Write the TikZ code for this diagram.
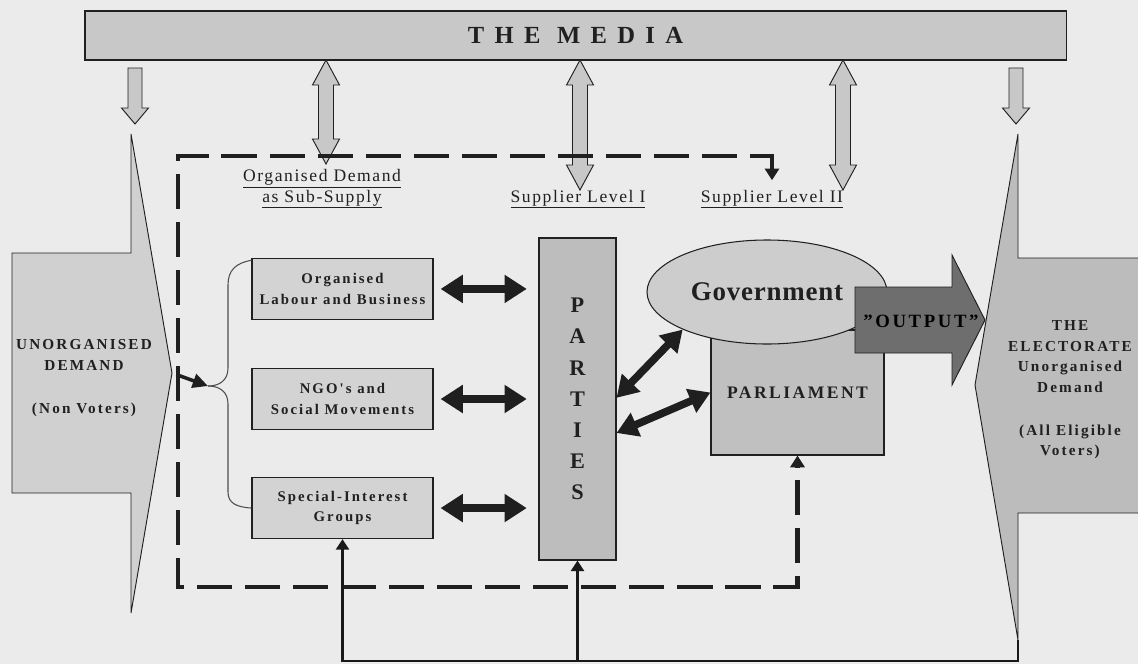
\documentclass[tikz,border=0pt]{standalone}
\usepackage{fontspec}
\setmainfont{Liberation Serif}
\newfontfamily\spaced[LetterSpace=14]{Liberation Serif}
\newfontfamily\lightspaced[LetterSpace=3]{Liberation Serif}
\newfontfamily\labelfont[LetterSpace=9]{Liberation Serif}
\newfontfamily\mediafont[LetterSpace=42]{Liberation Serif}
\usepackage{tikz}
\usetikzlibrary{arrows.meta,positioning,shapes.geometric}

\definecolor{paper}{HTML}{EBEBEB}
\definecolor{barfill}{HTML}{C8C8C8}
\definecolor{boxfill}{HTML}{D3D3D3}
\definecolor{partyfill}{HTML}{BDBDBD}
\definecolor{govfill}{HTML}{CDCDCD}
\definecolor{parlfill}{HTML}{C0C0C0}
\definecolor{outfill}{HTML}{6E6E6E}
\definecolor{demfill}{HTML}{D0D0D0}
\definecolor{elecfill}{HTML}{BCBCBC}
\definecolor{inkgrey}{HTML}{202020}

% vertical block arrows under the media bar: #1 = x, #2 = top, #3 = bottom
\newcommand{\twowayblock}[3]{%
	\filldraw[mediaarr] (#1,#2) -- (#1+13.5,#2+25) -- (#1+7.5,#2+25) -- (#1+7.5,#3-25)
		-- (#1+13.5,#3-25) -- (#1,#3) -- (#1-13.5,#3-25) -- (#1-7.5,#3-25)
		-- (#1-7.5,#2+25) -- (#1-13.5,#2+25) -- cycle;}
\newcommand{\downblock}[3]{%
	\filldraw[mediaarr] (#1-7,#2) -- (#1+7,#2) -- (#1+7,#3-16) -- (#1+13.5,#3-16)
		-- (#1,#3) -- (#1-13.5,#3-16) -- (#1-7,#3-16) -- cycle;}

\begin{document}
\begin{tikzpicture}[
		x=0.03cm, y=-0.03cm,
		text=inkgrey,
		mediabar/.style={
			rectangle, draw=inkgrey, line width=0.9pt, fill=barfill,
			minimum width=29.43cm, minimum height=1.47cm, inner sep=0pt,
			font=\mediafont\bfseries\fontsize{21}{24}\selectfont
		},
		mediaarr/.style={draw=inkgrey, line width=0.8pt, fill=barfill},
		orgbox/.style={
			rectangle, draw=inkgrey, line width=0.9pt, fill=boxfill,
			minimum width=5.43cm, minimum height=1.83cm, inner sep=2pt,
			align=center, font=\spaced\bfseries\fontsize{12.6}{17.5}\selectfont
		},
		partybox/.style={
			rectangle, draw=inkgrey, line width=0.9pt, fill=partyfill,
			minimum width=2.31cm, minimum height=9.66cm, inner sep=0pt,
			align=center, font=\bfseries\fontsize{19}{26.6}\selectfont
		},
		parlbox/.style={
			rectangle, draw=inkgrey, line width=0.9pt, fill=parlfill,
			minimum width=5.19cm, minimum height=3.75cm, inner sep=0pt,
			font=\spaced\bfseries\fontsize{15}{17}\selectfont
		},
		govnode/.style={
			ellipse, draw=inkgrey, line width=0.9pt, fill=govfill,
			minimum width=7.2cm, minimum height=3.12cm, inner sep=0pt,
			font=\lightspaced\bfseries\fontsize{23}{26}\selectfont
		},
		outblock/.style={draw=inkgrey, line width=0.8pt, fill=outfill},
		demtext/.style={align=center, font=\spaced\bfseries\fontsize{13}{17.5}\selectfont},
		level/.style={align=center, inner sep=1pt, font=\labelfont\fontsize{15}{17.5}\selectfont},
		bigshape/.style={draw=inkgrey, line width=0.8pt},
		blkarr/.style={{Triangle[width=23pt,length=19pt]}-{Triangle[width=23pt,length=19pt]},
			line width=7.5pt, black!88},
		diagarr/.style={{Triangle[width=21pt,length=18pt]}-{Triangle[width=21pt,length=18pt]},
			line width=6.5pt, black!88},
		dashbox/.style={line width=3.8pt, dash pattern=on 30pt off 11pt, black!88,
			{Triangle[width=12pt,length=10pt]}-{Triangle[width=12pt,length=10pt]}},
		fbline/.style={line width=2.5pt, black!90, -{Triangle[width=11pt,length=9pt]}},
		bracepath/.style={draw=inkgrey!80, line width=0.9pt}
	]
	
	\fill[paper] (0,0) rectangle (1138,664);
	\clip (0,0) rectangle (1138,664);
	
	%% media bar and its arrows
	\node[mediabar] (media) at (575.5,35.5) {THE MEDIA};
	\twowayblock{326}{60}{164}
	\twowayblock{580}{60}{190}
	\twowayblock{843}{60}{190}
	\downblock{135}{68}{124}
	\downblock{1016}{68}{124}
	
	%% unorganised demand (left) and electorate (right)
	\filldraw[bigshape, fill=demfill] (131,134) -- (172,373) -- (131,613) -- (131,493)
		-- (12,493) -- (12,253) -- (131,253) -- cycle;
	\coordinate (unorgtip) at (172,373);
	\node[demtext] (unorg) at (84,378) {UNORGANISED\\DEMAND\\[19pt](Non Voters)};
	
	\filldraw[bigshape, fill=elecfill] (1018,134) -- (975,385) -- (1018,640) -- (1018,513)
		-- (1150,513) -- (1150,258) -- (1018,258) -- cycle;
	\coordinate (elecbot) at (1018,640);
	\node[demtext] (elect) at (1070,390)
		{THE\\ELECTORATE\\Unorganised\\Demand\\[19pt](All Eligible\\Voters)};
	
	%% level headings
	\node[level] (subsup) at (322,189) {\underline{Organised Demand}\\\underline{as Sub-Supply}};
	\node[level] (supI) at (578,199) {\underline{Supplier Level I}};
	\node[level] (supII) at (772,199) {\underline{Supplier Level II}};
	
	%% organised demand
	\node[orgbox] (ngo) at (342.5,399) {NGO's and\\Social Movements};
	\node[orgbox, above=1.44cm of ngo] (orglab) {Organised\\Labour and Business};
	\node[orgbox, below=1.41cm of ngo] (special) {Special-Interest\\Groups};
	
	%% suppliers
	\node[partybox] (parties) at (577.5,399) {P\\A\\R\\T\\I\\E\\S};
	\node[parlbox] (parliament) at (797.5,392.5) {PARLIAMENT};
	\node[govnode] (government) at (767,292) {Government};
	\filldraw[outblock] (855,287) -- (952,287) -- (952,255) -- (985,320) -- (952,385)
		-- (952,353) -- (855,353) -- cycle;
	\node[font=\spaced\bfseries\fontsize{16}{18}\selectfont, text=black] (output) at (921,321) {”OUTPUT”};
	
	%% brace and entry arrow
	\coordinate (bracetip) at (208,386);
	\draw[bracepath] ([yshift=-2pt]orglab.north west) .. controls (236,263) and (228,270) .. (228,285)
		-- (228,368) .. controls (228,380) and (220,386) .. (bracetip);
	\draw[bracepath] (bracetip) .. controls (220,386) and (228,392) .. (228,404)
		-- (228,492) .. controls (228,503) and (236,507) .. (special.west);
	\draw[line width=3pt, black!88, -{Triangle[width=12pt,length=13pt]}, shorten <=4pt]
		(unorgtip) -- (bracetip);
	
	%% links to the parties
	\draw[blkarr, shorten <=6pt, shorten >=10pt] (orglab.east) -- (orglab.east -| parties.west);
	\draw[blkarr, shorten <=6pt, shorten >=10pt] (ngo.east) -- (ngo.east -| parties.west);
	\draw[blkarr, shorten <=6pt, shorten >=10pt] (special.east) -- (special.east -| parties.west);
	\draw[diagarr] ([yshift=1pt]parties.east) -- (government.204);
	\draw[diagarr] ([yshift=-29pt]parties.east) -- (parliament.west);
	
	%% dashed frame
	\draw[dashbox] ([yshift=7pt]supII.north) -- ++(0,-24) -| (178,587) -| (parliament.south);
	
	%% feedback from the electorate
	\coordinate (fbbase) at (1018,661);
	\draw[fbline] (elecbot) -- (fbbase) -| (special.south);
	\draw[fbline] (fbbase -| parties.south) -- (parties.south);
	
\end{tikzpicture}
\end{document}
